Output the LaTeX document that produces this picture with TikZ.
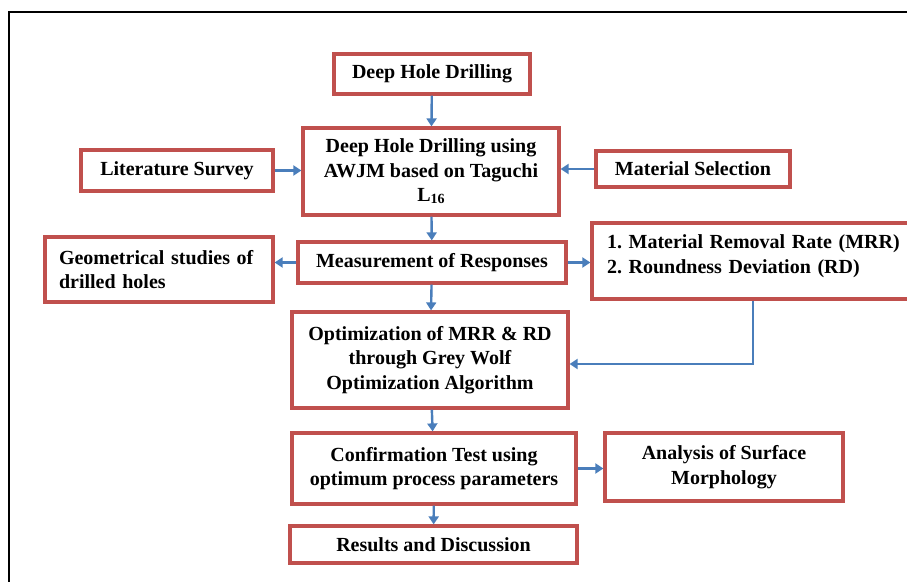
\documentclass[tikz,border=0pt]{standalone}
\usepackage{fontspec}
\setmainfont{Liberation Serif}
\usetikzlibrary{arrows.meta}
\definecolor{boxred}{HTML}{C0504D}
\definecolor{flowblue}{HTML}{4A7EBB}
\tikzset{stage/.style={draw=boxred, line width=3.2pt, align=center, inner sep=4pt,
        font=\fontsize{20}{24.5}\selectfont\bfseries\frenchspacing},
    flow/.style={draw=flowblue, line width=2.4pt, -{Triangle[width=10pt,length=8pt]}},
    }

\begin{document}
\begin{tikzpicture}[x=1pt,y=-1pt]
	\clip (0,0) rectangle (907,581);
	\draw[line width=2.2pt] (9,600) -- (9,12) -- (930,12);
	% main column
	\node[stage, minimum width=196pt, minimum height=40pt] (dhd) at (432,74) {Deep Hole Drilling};
	\node[stage, minimum width=256pt, minimum height=87pt] (awjm) at (431,171.5)
		{Deep Hole Drilling using\\AWJM based on Taguchi\\L\raisebox{-2pt}{\fontsize{14}{14}\selectfont 16}};
	\node[stage, minimum width=268pt, minimum height=41pt] (meas) at (432,262.5) {Measurement of Responses};
	\node[stage, minimum width=276pt, minimum height=96pt] (opt) at (430,360)
		{Optimization of MRR \& RD\\through Grey Wolf\\Optimization Algorithm};
	\node[stage, minimum width=284pt, minimum height=71pt] (conf) at (434,468.5)
		{Confirmation Test using\\optimum process parameters};
	\node[stage, minimum width=287pt, minimum height=37pt] (res) at (433.5,544.5) {Results and Discussion};
	% side boxes
	\node[stage, minimum width=192pt, minimum height=41pt] (lit) at (177,170.5) {Literature Survey};
	\node[stage, minimum width=194pt, minimum height=36pt] (mat) at (693,169) {Material Selection};
	\node[stage, align=left, text width=200pt, inner xsep=14pt, minimum height=65pt] (geo) at (159,269.5)
		{Geometrical studies of\\drilled holes};
	\node[stage, align=left, text width=308pt, inner xsep=15pt, minimum height=76pt, text depth=38pt] (resp) at (761,261)
		{1. Material Removal Rate (MRR)\\2. Roundness Deviation (RD)};
	\node[stage, minimum width=238pt, minimum height=68pt] (ana) at (724,467)
		{Analysis of Surface\\Morphology};
	% connectors
	\draw[flow] (dhd) -- (awjm);
	\draw[flow] (lit) -- (awjm.west |- lit);
	\draw[flow] (mat) -- (awjm.east |- mat);
	\draw[flow] (awjm) -- (meas);
	\draw[flow] (meas.west) -- (geo.east |- meas.west);
	\draw[flow] (meas.east) -- (resp.west |- meas.east);
	\draw[flow] (meas) -- (opt);
	\draw[flow] ([xshift=-8pt]resp.south) |- ([yshift=-4pt]opt.east);
	\draw[flow] (opt) -- (conf);
	\draw[flow] (conf.east) -- (ana.west |- conf.east);
	\draw[flow] (conf) -- (res);
\end{tikzpicture}
\end{document}
